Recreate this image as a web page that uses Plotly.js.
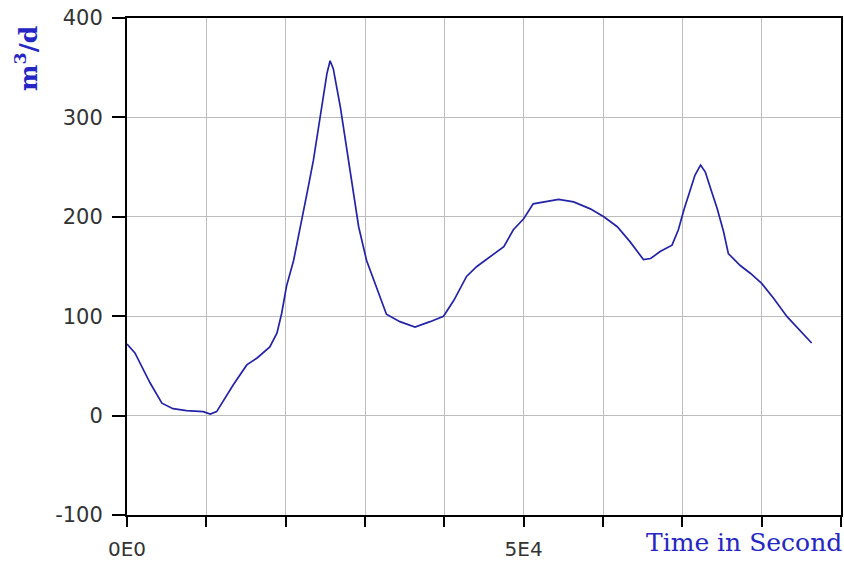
<!DOCTYPE html>
<html>
<head>
<meta charset="utf-8">
<script src="https://cdn.plot.ly/plotly-3.0.1.min.js"></script>
<style>html,body{margin:0;padding:0;background:#fff;}#chart{width:844px;height:562px;}</style>
</head>
<body>
<div id="chart"></div>
<script>
// Time in seconds
const timeSec = [0, 1000, 2900, 4400, 5800, 7500, 9600, 10500, 11300, 13400, 15100, 16400, 18000, 18900, 19500, 20100, 21000, 21800, 22700, 23500, 24300, 25200, 25600, 26000, 26900, 27700, 28500, 29200, 30200, 31500, 32700, 34400, 36300, 38200, 39900, 41200, 42800, 44100, 45800, 47500, 48700, 50000, 51200, 52500, 54400, 56300, 58400, 60100, 61800, 63400, 65100, 66000, 67200, 68700, 69500, 70200, 71000, 71600, 72300, 72900, 73500, 74400, 75200, 75800, 77300, 78600, 80000, 81500, 83200, 84900, 86300];
// Flow rate m3/d
const flow = [72, 63, 33, 12.5, 7, 5, 4, 1.5, 4, 31, 51, 58, 69, 83, 103, 130, 156, 187, 224, 257, 300, 344, 357, 349, 310, 267, 223, 190, 156, 128, 102, 94.5, 89, 94.5, 100, 116, 140, 150, 160, 170, 187, 198, 213, 215, 217.5, 215, 208, 200, 190, 175, 157, 158, 165, 171.5, 187, 207, 228, 242, 252, 245, 230, 208, 185, 163, 151, 143, 133, 118, 99.5, 84.5, 73];
const xTickVals = [0, 50000];
const xTickText = ['0E0', '5E4'];
const xMinorStep = 10000;
const yTickVals = [-100, 0, 100, 200, 300, 400];
const yTickText = ['-100', '0', '100', '200', '300', '400'];
const xTitle = 'Time in Second';
const yTitle = 'm<sup>3</sup>/d';

const trace = {
  x: timeSec, y: flow, type: 'scatter', mode: 'lines',
  line: {color: '#2323a8', width: 1.7},
  hoverinfo: 'skip'
};

const layout = {
  width: 844, height: 562,
  margin: {l: 127, r: 3, t: 18, b: 47},
  paper_bgcolor: '#ffffff', plot_bgcolor: '#ffffff',
  showlegend: false,
  font: {family: 'DejaVu Sans', size: 20, color: '#333333'},
  xaxis: {
    range: [0, 90000], tickmode: 'array', tickvals: xTickVals, ticktext: xTickText,
    showgrid: true, gridcolor: '#bdbdbd', gridwidth: 1,
    showline: true, linecolor: '#000000', linewidth: 2, mirror: true,
    ticks: 'outside', ticklen: 10, tickwidth: 2, tickcolor: '#000000',
    minor: {dtick: xMinorStep, tick0: 0, ticks: 'outside', ticklen: 10, tickwidth: 2, tickcolor: '#000000',
            showgrid: true, gridcolor: '#bdbdbd', gridwidth: 1},
    zeroline: false, tickfont: {family: 'DejaVu Sans', size: 20, color: '#333333'},
    ticklabelstandoff: 5
  },
  yaxis: {
    range: [-100, 400], tickmode: 'array', tickvals: yTickVals, ticktext: yTickText,
    showgrid: true, gridcolor: '#bdbdbd', gridwidth: 1,
    showline: true, linecolor: '#000000', linewidth: 2, mirror: true,
    ticks: 'outside', ticklen: 13, tickwidth: 2, tickcolor: '#000000',
    zeroline: false, tickfont: {family: 'DejaVu Sans', size: 21, color: '#333333'},
    ticklabelstandoff: 5
  },
  annotations: [
    {text: xTitle, xref: 'paper', yref: 'paper', x: 1, y: 0, xanchor: 'right', yanchor: 'middle',
     xshift: 3, yshift: -27, showarrow: false,
     font: {family: 'DejaVu Serif', size: 25, color: '#2626c4'}},
    {text: '<b>' + yTitle + '</b>', xref: 'paper', yref: 'paper', x: 0, y: 1, xanchor: 'center', yanchor: 'middle',
     xshift: -101, yshift: -41, textangle: -90, showarrow: false,
     font: {family: 'DejaVu Serif', size: 25, color: '#2626c4'}}
  ]
};

Plotly.newPlot('chart', [trace], layout, {displayModeBar: false, staticPlot: true});
</script>
</body>
</html>
